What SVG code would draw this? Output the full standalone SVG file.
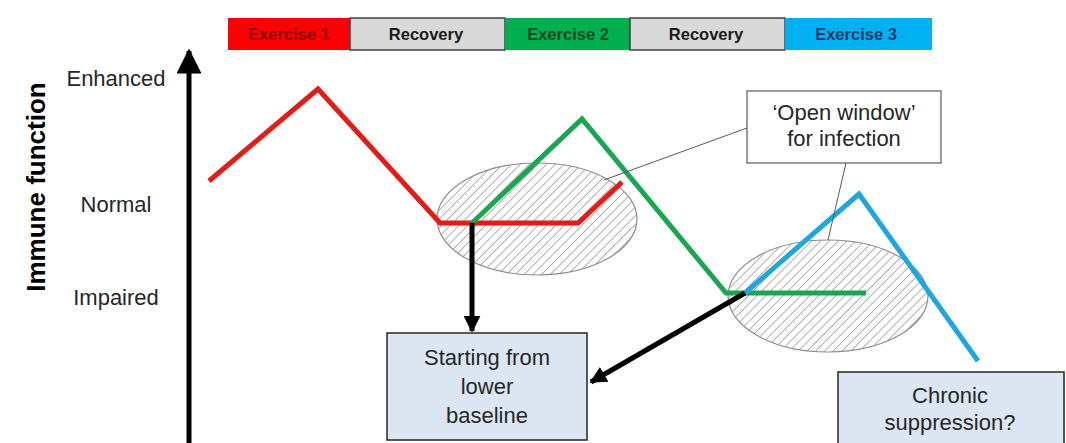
<svg xmlns="http://www.w3.org/2000/svg" width="1066" height="443" viewBox="0 0 1066 443">
<style>
.lbl{font-family:"Liberation Sans",Arial,sans-serif;font-size:22px;fill:#262626}
.bar{font-family:"Liberation Sans",Arial,sans-serif;font-size:16.5px;font-weight:bold}
.box{font-family:"Liberation Sans",Arial,sans-serif;font-size:22px;fill:#262626}
.trace{fill:none;stroke-width:5;stroke-linejoin:miter;stroke-linecap:butt}
.conn{stroke:#000;stroke-width:5;fill:none}
.lead{stroke:#595959;stroke-width:1;fill:none}
.win{fill:url(#hatch);stroke:#8c8c8c;stroke-width:1.2}
</style>
<defs>
<pattern id="hatch" patternUnits="userSpaceOnUse" width="6.2" height="6.2" patternTransform="rotate(45)">
<rect width="6.2" height="6.2" fill="#fff"/>
<line x1="0" y1="0" x2="0" y2="6.2" stroke="#8f8f8f" stroke-width="1.4"/>
</pattern>
<marker id="ah" viewBox="0 0 10 10" refX="9" refY="5" markerWidth="3.4" markerHeight="3.4" orient="auto" markerUnits="strokeWidth">
<path d="M0,0 L10,5 L0,10 z" fill="#000"/>
</marker>
<marker id="ahx" viewBox="0 0 10 10" refX="9" refY="5" markerWidth="5" markerHeight="5" orient="auto" markerUnits="strokeWidth">
<path d="M0,0 L10,5 L0,10 z" fill="#000"/>
</marker>
</defs>
<rect width="1066" height="443" fill="#fff"/>

<g id="phase-bar">
<rect x="228" y="18" width="122" height="32" fill="#ff0000"/>
<rect x="350" y="18" width="155" height="32" fill="#d9d9d9" stroke="#404040" stroke-width="1.5"/>
<rect x="505" y="18" width="125" height="32" fill="#00b050"/>
<rect x="630" y="18" width="155" height="32" fill="#d9d9d9" stroke="#404040" stroke-width="1.5"/>
<rect x="785" y="18" width="147" height="32" fill="#00b0f0"/>
<text class="bar" x="289" y="40" text-anchor="middle" fill="#8b0000">Exercise 1</text>
<text class="bar" x="426" y="40" text-anchor="middle" fill="#1a1a1a">Recovery</text>
<text class="bar" x="568" y="40" text-anchor="middle" fill="#0d4a22">Exercise 2</text>
<text class="bar" x="706" y="40" text-anchor="middle" fill="#1a1a1a">Recovery</text>
<text class="bar" x="856" y="40" text-anchor="middle" fill="#1f3a6b">Exercise 3</text>
</g>

<g id="axis">
<line x1="189" y1="443" x2="189" y2="51" class="conn" stroke-width="4" marker-end="url(#ahx)"/>
<text x="45" y="187" transform="rotate(-90 45 187)" text-anchor="middle" font-family="Liberation Sans, Arial, sans-serif" font-size="26" font-weight="bold" fill="#000">Immune function</text>
<text class="lbl" x="116" y="86" text-anchor="middle">Enhanced</text>
<text class="lbl" x="116" y="212" text-anchor="middle">Normal</text>
<text class="lbl" x="116" y="305" text-anchor="middle">Impaired</text>
</g>

<g id="window1"><ellipse class="win" cx="537" cy="219" rx="100" ry="56"/></g>
<g id="window2"><ellipse class="win" cx="828" cy="296" rx="100" ry="56"/></g>

<g id="traces">
<polyline class="trace" stroke="#e41b17" points="209,181 318,89 440,223 578,223 622,182"/>
<polyline class="trace" stroke="#1aa64f" points="472,223 582,119 726,293 866,293"/>
<polyline class="trace" stroke="#1ea7de" points="745,293 859,194 978,361"/>
</g>

<g id="connectors">
<line class="conn" x1="472" y1="223" x2="472" y2="331" marker-end="url(#ah)"/>
<line class="conn" x1="745" y1="293" x2="591" y2="382" marker-end="url(#ah)"/>
<line class="lead" x1="747" y1="128" x2="604" y2="180"/>
<line class="lead" x1="846" y1="163" x2="828" y2="240"/>
</g>

<g id="open-window">
<rect x="747" y="91" width="194" height="72" fill="#fff" stroke="#595959" stroke-width="1.2"/>
<text class="box" x="844" y="120" text-anchor="middle">‘Open window’</text>
<text class="box" x="844" y="146" text-anchor="middle">for infection</text>
</g>

<g id="lower-baseline">
<rect x="387" y="333" width="200" height="107" fill="#dce6f2" stroke="#262626" stroke-width="1.5"/>
<text class="box" x="487" y="365" text-anchor="middle">Starting from</text>
<text class="box" x="487" y="394" text-anchor="middle">lower</text>
<text class="box" x="487" y="423" text-anchor="middle">baseline</text>
</g>

<g id="chronic">
<rect x="838" y="372" width="226" height="80" fill="#dce6f2" stroke="#262626" stroke-width="1.5"/>
<text class="box" x="950" y="403" text-anchor="middle">Chronic</text>
<text class="box" x="950" y="430" text-anchor="middle">suppression?</text>
</g>
</svg>
